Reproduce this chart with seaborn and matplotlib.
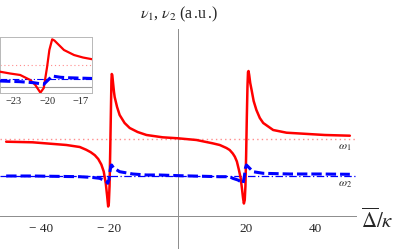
import matplotlib
matplotlib.use("Agg")
import matplotlib.pyplot as plt
import seaborn as sns
import pandas as pd

# ---------------- data ----------------
delta_red = [-50.2, -42.5, -32.6, -28.7, -26.8, -25.5, -24.3, -23.3, -22.4, -21.7, -21.1, -20.7,
             -20.4, -20.2, -20.0, -19.8, -19.6, -19.45, -19.35, -19.2, -19.0, -18.7, -18.5, -17.8,
             -17.05, -15.6, -14.1, -11.8, -9.2, -4.5, 0.0, 5.4, 10.1, 12.2, 14.15, 15.1, 16.0, 16.6,
             17.2, 17.8, 18.3, 18.7, 19.0, 19.25, 19.5, 19.7, 19.9, 20.1, 20.3, 20.45, 20.6, 20.8,
             21.1, 21.5, 22.1, 22.9, 23.9, 24.9, 27.8, 31.7, 35.6, 42.9, 50.2]
nu1 = [7.43, 7.37, 7.10, 6.90, 6.62, 6.38, 6.08, 5.70, 5.15, 4.45, 3.25, 2.00,
       0.95, 1.30, 3.00, 6.50, 10.5, 13.5, 14.2, 14.1, 13.4, 12.4, 11.9, 10.9,
       10.1, 9.30, 8.80, 8.40, 8.10, 7.87, 7.77, 7.60, 7.27, 7.10, 6.80, 6.60, 6.25, 5.93,
       5.45, 4.60, 3.80, 2.70, 1.80, 1.25, 1.60, 3.00, 6.00, 9.80, 13.0, 14.4, 14.5, 14.1,
       13.3, 12.6, 11.5, 10.6, 9.80, 9.30, 8.60, 8.33, 8.25, 8.10, 8.03]

delta_blue = [-50.2, -42.5, -32.6, -28.7, -24.9, -22.9, -21.7, -20.9, -20.5, -20.2, -19.9, -19.6,
              -19.4, -18.8, -17.05, -13.2, -9.2, -5.4, 0.5, 12.2, 15.1, 16.0, 17.5, 18.5, 19.0,
              19.4, 19.7, 20.0, 21.0, 21.9, 24.9, 32.7, 41.4, 50.2]
nu2 = [4.00, 4.00, 3.95, 3.93, 3.85, 3.77, 3.60, 3.45, 3.27, 3.60, 4.40, 5.00,
       5.10, 4.80, 4.43, 4.20, 4.10, 4.10, 4.03, 3.93, 3.93, 3.77, 3.60, 3.40, 3.27,
       4.00, 4.80, 5.10, 4.75, 4.43, 4.27, 4.20, 4.20, 4.17]

omega1 = 7.7
omega2 = 4.05

# inset (zoom around -20)
delta_red_in = [-24.2, -23.3, -22.4, -21.5, -21.05, -20.6, -20.3, -20.0, -19.8, -19.55, -19.35,
                -19.1, -18.5, -17.6, -16.8, -15.95]
nu1_in = [5.98, 5.52, 5.14, 3.85, 2.57, 0.60, 1.80, 7.26, 11.55, 14.29, 13.98,
          13.26, 11.55, 10.26, 9.62, 9.16]
delta_blue_in = [-24.2, -22.4, -21.2, -20.3, -19.85, -19.55, -18.8, -18.2, -15.95]
nu2_in = [3.60, 3.42, 3.16, 2.75, 4.03, 4.88, 4.55, 4.44, 4.24]

main_ticks = [-40, -20, 20, 40]
main_minor = [-50, -45, -35, -30, -25, -15, -10, -5, 5, 10, 15, 25, 30, 35, 45, 50]
inset_ticks = [-23, -20, -17]
inset_axis_level = 2.06

# ---------------- style ----------------
sns.set_style("white")
plt.rcParams["font.family"] = ["Liberation Serif", "DejaVu Serif"]
plt.rcParams["mathtext.fontset"] = "stix"

RED = (1.0, 0.0, 0.0)
BLUE = (0.0, 0.0, 1.0)
PINK = (1.0, 0.55, 0.55)
GRAY = (0.55, 0.55, 0.55)

W, H = 399, 249
fig = plt.figure(figsize=(W / 100, H / 100), dpi=100)

# ---------------- main axes ----------------
ax = fig.add_axes([0.0, 0.0, 356 / W, 220 / H])
ax.set_xlim(-52, 52)
ax.set_ylim(-3.3, 18.7)

ax.axhline(omega1, color=PINK, lw=1.0, linestyle=(0, (1, 2.3)), zorder=1)
ax.axhline(omega2, color=BLUE, lw=0.9, linestyle=(0, (6, 2, 1, 2)), zorder=1)

df_red = pd.DataFrame({"delta": delta_red, "nu": nu1})
df_blue = pd.DataFrame({"delta": delta_blue, "nu": nu2})
sns.lineplot(data=df_red, x="delta", y="nu", ax=ax, color=RED, lw=1.8,
             estimator=None, sort=False, zorder=3)
sns.lineplot(data=df_blue, x="delta", y="nu", ax=ax, color=BLUE, lw=2.2,
             estimator=None, sort=False, linestyle=(0, (3.4, 1.3)), zorder=4)

for s in ["top", "right"]:
    ax.spines[s].set_visible(False)
ax.spines["bottom"].set_position(("data", 0))
ax.spines["left"].set_position(("data", 0))
for s in ["bottom", "left"]:
    ax.spines[s].set_color(GRAY)
    ax.spines[s].set_linewidth(0.7)

ax.set_xticks(main_ticks)
ax.set_xticklabels(["\u2212 " + str(abs(t)) if t < 0 else str(t) for t in main_ticks])
ax.set_xticks(main_minor, minor=True)
ax.set_yticks([])
ax.tick_params(axis="x", which="major", direction="in", length=3.2, width=0.6,
               color=GRAY, labelsize=9.5, pad=5)
ax.tick_params(axis="x", which="minor", direction="in", length=2.0, width=0.5, color=GRAY)
ax.set_xlabel("")
ax.set_ylabel("")
ax.patch.set_alpha(0)

ax.text(46.7, omega1 - 0.2, r"$\omega_1$", fontsize=8.5, ha="left", va="top")
ax.text(46.7, omega2 - 0.2, r"$\omega_2$", fontsize=8.5, ha="left", va="top")

fig.text(179 / W, 1 - 14 / H, r"$\nu_1$, $\nu_2$ (a$\,$.u$\,$.)", fontsize=11.5,
         ha="center", va="center")
fig.text(361 / W, 1 - 221 / H, r"$\overline{\Delta}/\kappa$", fontsize=15, ha="left", va="center")

# ---------------- inset ----------------
axi = fig.add_axes([0.0, 1 - 93 / H, 92 / W, 56.3 / H])
axi.set_xlim(-24.2, -16.0)
axi.set_ylim(0.52, 14.96)
axi.axhline(inset_axis_level, color=(0.6, 0.6, 0.6), lw=0.8, zorder=1)
axi.axhline(omega1, color=PINK, lw=0.8, linestyle=(0, (1, 2.5)), zorder=1)
axi.axhline(omega2, color=BLUE, lw=0.8, linestyle=(0, (6, 2, 1, 2)), zorder=1)

df_red_in = pd.DataFrame({"delta": delta_red_in, "nu": nu1_in})
df_blue_in = pd.DataFrame({"delta": delta_blue_in, "nu": nu2_in})
sns.lineplot(data=df_red_in, x="delta", y="nu", ax=axi, color=RED, lw=1.6,
             estimator=None, sort=False, zorder=3)
sns.lineplot(data=df_blue_in, x="delta", y="nu", ax=axi, color=BLUE, lw=2.2,
             estimator=None, sort=False, linestyle=(0, (3.4, 1.3)), zorder=4)

for s in axi.spines.values():
    s.set_color((0.72, 0.72, 0.72))
    s.set_linewidth(0.7)
axi.set_xticks(inset_ticks)
axi.set_xticklabels(["\u2212" + str(abs(t)) for t in inset_ticks])
axi.set_yticks([])
axi.tick_params(axis="x", direction="in", length=3, width=0.6, color=GRAY,
                labelsize=7.5, pad=3)
axi.set_xlabel("")
axi.set_ylabel("")

fig.savefig("out.png", dpi=100)
